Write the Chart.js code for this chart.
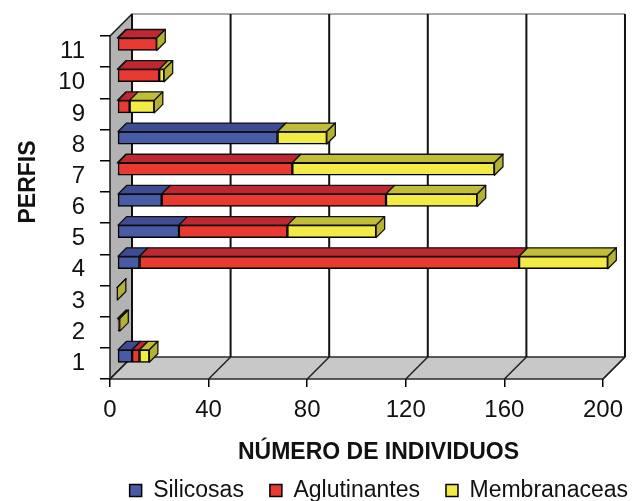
<!DOCTYPE html>
<html>
<head>
<meta charset="utf-8">
<script src="https://cdn.jsdelivr.net/npm/chart.js@4"></script>
<style>
  html, body { margin: 0; padding: 0; background: #fff; }
  canvas { display: block; }
</style>
</head>
<body>
<canvas id="chart" width="632" height="501"></canvas>
<script>
// Foraminifera counts per profile (perfil), by wall type
const perfis       = ['1', '2', '3', '4', '5', '6', '7', '8', '9', '10', '11'];
const silicosas    = [6, 0, 0,   9, 25, 18,  0, 65,  0,  0,  0];
const aglutinantes = [3, 1, 0, 154, 44, 91, 71,  0,  5, 17, 16];
const membranaceas = [4, 0, 0,  36, 36, 37, 82, 20, 10,  2,  0];
const xTicks       = [0, 40, 80, 120, 160, 200];

const seriesNames = ['Silicosas', 'Aglutinantes', 'Membranaceas'];
const seriesData  = [silicosas, aglutinantes, membranaceas];
const frontColors = ['#4a5ba6', '#e83a30', '#f2ea45'];
const topColors   = ['#3e4c94', '#bf2830', '#c0bd37'];
const sideColors  = ['#36428a', '#a62229', '#b4b233'];

// depth of the 3D box (px) and of each bar slab inside it
const DEPTH = 22;
const BAR_DEPTH = 8.5;
const TEXT = '#111';
const FONT = '"Liberation Sans", Arial, sans-serif';

function poly(ctx, pts, fill, stroke, lw) {
  ctx.beginPath();
  ctx.moveTo(pts[0][0], pts[0][1]);
  for (let i = 1; i < pts.length; i++) ctx.lineTo(pts[i][0], pts[i][1]);
  ctx.closePath();
  if (fill) { ctx.fillStyle = fill; ctx.fill(); }
  if (stroke) { ctx.strokeStyle = stroke; ctx.lineWidth = lw; ctx.stroke(); }
}
function seg(ctx, x1, y1, x2, y2, color, lw) {
  ctx.beginPath();
  ctx.moveTo(x1, y1);
  ctx.lineTo(x2, y2);
  ctx.strokeStyle = color;
  ctx.lineWidth = lw;
  ctx.stroke();
}

// Draws the walls and floor behind the bars, the depth faces of each bar,
// and the two axis titles.
const box3d = {
  id: 'box3d',
  beforeDraw(chart) {
    const { ctx, chartArea: a, scales: { x } } = chart;
    const d = DEPTH;
    ctx.save();
    ctx.lineJoin = 'round';
    // back wall
    poly(ctx, [[a.left + d, a.top - d], [a.right + d, a.top - d], [a.right + d, a.bottom - d], [a.left + d, a.bottom - d]], '#ffffff', null, 0);
    // left wall
    poly(ctx, [[a.left, a.top], [a.left + d, a.top - d], [a.left + d, a.bottom - d], [a.left, a.bottom]], '#b3b3b3', '#1a1a1a', 1.5);
    // floor
    poly(ctx, [[a.left, a.bottom], [a.right, a.bottom], [a.right + d, a.bottom - d], [a.left + d, a.bottom - d]], '#c8c8c8', '#2a2a2a', 1.3);
    // top edge of the back wall
    seg(ctx, a.left + d, a.top - d, a.right + d, a.top - d, '#8c8c8c', 1.5);
    // value gridlines on the back wall and across the floor
    xTicks.forEach(v => {
      const px = x.getPixelForValue(v);
      seg(ctx, px + d, a.top - d, px + d, a.bottom - d, '#111', 2);
      seg(ctx, px, a.bottom, px + d, a.bottom - d, '#222', 1.5);
    });
    ctx.restore();
  },
  beforeDatasetsDraw(chart) {
    // bars sit one third of the way into the box
    chart.ctx.save();
    chart.ctx.translate(DEPTH / 3, -DEPTH / 3);
  },
  afterDatasetsDraw(chart) {
    const ctx = chart.ctx;
    const last = chart.data.datasets.length - 1;
    const bd = BAR_DEPTH;
    ctx.lineJoin = 'round';
    chart.data.datasets.forEach((ds, di) => {
      const meta = chart.getDatasetMeta(di);
      meta.data.forEach(bar => {
        const { x, y, base, height } = bar.getProps(['x', 'y', 'base', 'height'], true);
        const t = y - height / 2, b = y + height / 2;
        const l = Math.min(x, base), r = Math.max(x, base);
        poly(ctx, [[l, t], [r, t], [r + bd, t - bd], [l + bd, t - bd]], topColors[di], '#111', 1.3);
        if (di === last) {
          poly(ctx, [[r, t], [r + bd, t - bd], [r + bd, b - bd], [r, b]], sideColors[di], '#111', 1.3);
        }
      });
    });
    ctx.restore();
  },
  afterDraw(chart) {
    const { ctx, chartArea: a } = chart;
    ctx.save();
    ctx.fillStyle = TEXT;
    ctx.textAlign = 'center';
    ctx.textBaseline = 'alphabetic';
    ctx.font = 'bold 23px ' + FONT;
    ctx.fillText('NÚMERO DE INDIVIDUOS', (a.left + a.right) / 2 + DEPTH, a.bottom + 80);
    ctx.translate(35, a.top + 146);
    ctx.rotate(-Math.PI / 2);
    ctx.fillText('PERFIS', 0, 0);
    ctx.restore();
  }
};

const tickFont = { family: FONT, size: 24 };

new Chart(document.getElementById('chart'), {
  type: 'bar',
  data: {
    labels: perfis,
    datasets: seriesNames.map((name, i) => ({
      label: name,
      data: seriesData[i],
      backgroundColor: frontColors[i]
    }))
  },
  options: {
    indexAxis: 'y',
    responsive: false,
    animation: false,
    devicePixelRatio: 1,
    layout: { padding: { top: 36, left: 0, right: -22, bottom: -11 } },
    datasets: {
      bar: {
        barThickness: 12.5,
        borderColor: '#000',
        borderWidth: 1.5,
        borderSkipped: false,
        clip: false
      }
    },
    scales: {
      x: {
        stacked: true,
        min: 0,
        max: 200,
        afterBuildTicks: s => { s.ticks = xTicks.map(v => ({ value: v })); },
        afterFit: s => { s.height = 74; },
        grid: { drawOnChartArea: false, drawTicks: true, tickLength: 8, color: '#000', lineWidth: 1.5 },
        border: { display: false },
        ticks: { padding: 9, font: tickFont, color: TEXT, maxRotation: 0, autoSkip: false }
      },
      y: {
        stacked: true,
        reverse: true,
        afterFit: s => { s.width = 110; },
        grid: { drawOnChartArea: false, drawTicks: true, offset: true, tickLength: 10, color: '#000', lineWidth: 1.5 },
        border: { display: false },
        ticks: { padding: 15, font: tickFont, color: TEXT, autoSkip: false }
      },
      yEdge: {
        position: 'right',
        display: true,
        afterFit: s => { s.width = 50; },
        grid: { display: false },
        border: { display: false },
        ticks: { display: false }
      }
    },
    plugins: {
      legend: {
        position: 'bottom',
        align: 'end',
        labels: {
          boxWidth: 12,
          boxHeight: 12,
          padding: 26,
          color: TEXT,
          font: { family: FONT, size: 23 }
        }
      },
      tooltip: { enabled: false }
    }
  },
  plugins: [box3d]
});
</script>
</body>
</html>
